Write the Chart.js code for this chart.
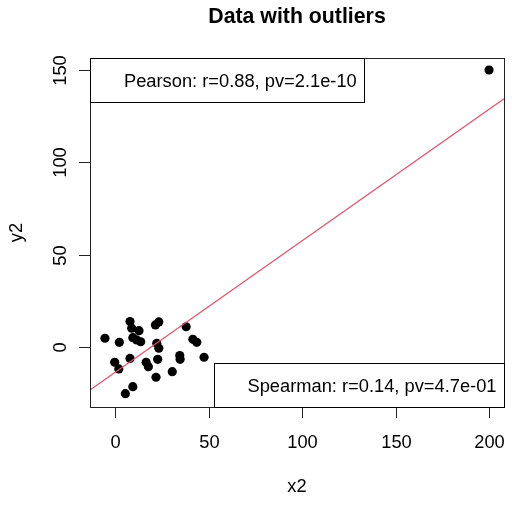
<!DOCTYPE html>
<html>
<head>
<meta charset="utf-8">
<script src="https://cdn.jsdelivr.net/npm/chart.js@4/dist/chart.umd.min.js"></script>
<style>
  html, body { margin: 0; padding: 0; background: #fff; }
  #wrap { width: 512px; height: 505px; }
</style>
</head>
<body>
<div id="wrap"><canvas id="plot" width="512" height="505"></canvas></div>
<script>
// x2 / y2 values (last one is the outlier)
const x2 = [-5.4, 2.3, 8.0, 8.9, 12.8, 9.5, 11.6, 13.7, 21.6, 23.4, 22.3, 23.4, 38.0, 41.6, 43.7,
            -0.2, 2.0, 8.0, 16.6, 17.8, 22.8, 34.6, 34.8, 47.6, 30.6, 21.9, 9.5, 5.5, 200];
const y2 = [4.9, 2.7, 13.9, 10.3, 9.0, 5.2, 4.0, 3.0, 12.1, 13.7, 2.2, -0.5, 11.1, 4.3, 2.7,
            -8.1, -11.7, -6.0, -8.1, -10.5, -6.5, -4.5, -6.5, -5.4, -13.2, -16.2, -21.3, -25.1, 150];

// fitted line y = a + b*x
const fitCoef = [-13.6, 0.712];

const xTicks = [0, 50, 100, 150, 200];
const yTicks = [0, 50, 100, 150];
const xRange = [-13.4, 208.0];
const yRange = [-32.3, 156.5];

const titleText = 'Data with outliers';
const xLabel = 'x2';
const yLabel = 'y2';
const pearsonText = 'Pearson: r=0.88, pv=2.1e-10';
const spearmanText = 'Spearman: r=0.14, pv=4.7e-01';

const FONT = '"Liberation Sans", Arial, sans-serif';
const fs = 18.3;

const points = x2.map((x, i) => ({ x: x, y: y2[i] }));
const fitLine = xRange.map(x => ({ x: x, y: fitCoef[0] + fitCoef[1] * x }));

// R-style axes, box, title and legend boxes
const rDecor = {
  id: 'rDecor',
  afterDraw(chart) {
    const ctx = chart.ctx;
    const a = chart.chartArea;
    const xs = chart.scales.x, ys = chart.scales.y;
    ctx.save();
    ctx.strokeStyle = '#222';
    ctx.lineWidth = 1;
    ctx.fillStyle = '#000';

    // plot box
    ctx.strokeRect(Math.round(a.left) + 0.5, Math.round(a.top) + 0.5,
                   Math.round(a.right - a.left), Math.round(a.bottom - a.top));

    // x axis ticks + labels
    ctx.font = fs + 'px ' + FONT;
    ctx.textAlign = 'center';
    ctx.textBaseline = 'alphabetic';
    xTicks.forEach(v => {
      const px = Math.round(xs.getPixelForValue(v)) + 0.5;
      ctx.beginPath();
      ctx.moveTo(px, a.bottom);
      ctx.lineTo(px, a.bottom + 11);
      ctx.stroke();
      ctx.fillText(String(v), px, 447.5);
    });

    // y axis ticks + rotated labels
    yTicks.forEach(v => {
      const py = Math.round(ys.getPixelForValue(v)) + 0.5;
      ctx.beginPath();
      ctx.moveTo(a.left, py);
      ctx.lineTo(a.left - 11, py);
      ctx.stroke();
      ctx.save();
      ctx.translate(65.5, py);
      ctx.rotate(-Math.PI / 2);
      ctx.fillText(String(v), 0, 0);
      ctx.restore();
    });

    // axis titles
    const midX = (a.left + a.right) / 2;
    const midY = (a.top + a.bottom) / 2;
    ctx.fillText(xLabel, midX, 491.5);
    ctx.save();
    ctx.translate(21.5, midY);
    ctx.rotate(-Math.PI / 2);
    ctx.fillText(yLabel, 0, 0);
    ctx.restore();

    // main title
    ctx.font = 'bold 21.3px ' + FONT;
    ctx.fillText(titleText, midX, 23);

    // legend boxes (topleft / bottomright)
    ctx.font = fs + 'px ' + FONT;
    ctx.textAlign = 'left';
    ctx.strokeStyle = '#000';
    const boxH = 44;
    const drawBox = (txt, left, top, w) => {
      ctx.fillStyle = '#fff';
      ctx.fillRect(left, top, w, boxH);
      ctx.strokeRect(Math.round(left) + 0.5, Math.round(top) + 0.5, Math.round(w), boxH);
      ctx.fillStyle = '#000';
      ctx.fillText(txt, left + 34, top + boxH / 2 + 6.5);
    };
    const w1 = ctx.measureText(pearsonText).width + 34 + 7.5;
    drawBox(pearsonText, a.left, a.top, w1);
    const w2 = ctx.measureText(spearmanText).width + 34 + 7.5;
    drawBox(spearmanText, a.right - w2, a.bottom - boxH, w2);

    ctx.restore();
  }
};

new Chart(document.getElementById('plot'), {
  type: 'scatter',
  data: {
    datasets: [
      {
        type: 'line',
        data: fitLine,
        borderColor: '#DF536B',
        borderWidth: 1.2,
        pointRadius: 0,
        fill: false
      },
      {
        data: points,
        backgroundColor: '#000',
        borderWidth: 0,
        pointRadius: 4.6,
        pointHoverRadius: 4.6
      }
    ]
  },
  options: {
    responsive: false,
    animation: false,
    events: [],
    layout: { padding: { left: 90, right: 8, top: 58, bottom: 98 } },
    plugins: { legend: { display: false }, tooltip: { enabled: false } },
    scales: {
      x: { type: 'linear', display: false, min: xRange[0], max: xRange[1] },
      y: { type: 'linear', display: false, min: yRange[0], max: yRange[1] }
    }
  },
  plugins: [rDecor]
});
</script>
</body>
</html>
